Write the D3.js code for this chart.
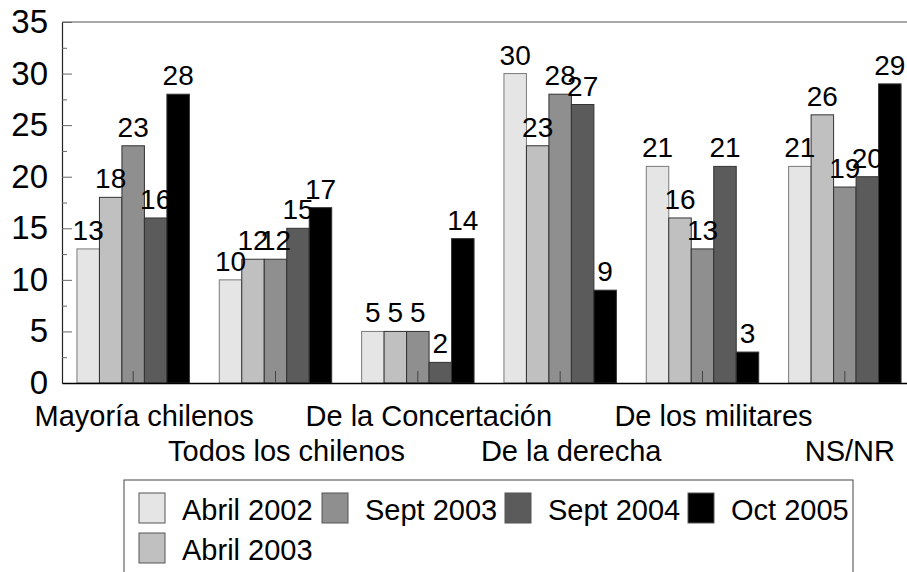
<!DOCTYPE html>
<html>
<head>
<meta charset="utf-8">
<script src="https://cdn.jsdelivr.net/npm/d3@7"></script>
<style>
	html, body {margin:0; padding:0; background:#fff;}
	.chart {width:907px; height:572px; overflow:hidden;}
	text {font-family:'Liberation Sans', Arial, sans-serif; fill:#000;}
</style>
</head>
<body>
<div class="chart"></div>
<script>
//Data
const CATEGORIES = ['Mayoría chilenos','Todos los chilenos','De la Concertación','De la derecha','De los militares','NS/NR'];
const SERIES = ['Abril 2002','Abril 2003','Sept 2003','Sept 2004','Oct 2005'];
const ABRIL_2002 = [13,10,5,30,21,21];
const ABRIL_2003 = [18,12,5,23,16,26];
const SEPT_2003 = [23,12,5,28,13,19];
const SEPT_2004 = [16,15,2,27,21,20];
const OCT_2005 = [28,17,14,9,3,29];
const Y_TICKS = [0,5,10,15,20,25,30,35];
const Y_MINOR = [2.5,7.5,12.5,17.5,22.5,27.5,32.5];
const COLORS = ['#e5e5e5','#c0c0c0','#8f8f8f','#5b5b5b','#000000'];

const VALUES = [ABRIL_2002, ABRIL_2003, SEPT_2003, SEPT_2004, OCT_2005];

//Prep work
const W = 907;
const H = 572;
const plotL = 62, plotR = 916, plotT = 22, plotB = 383;

const svg = d3.select('.chart')
	.append('svg')
		.attr('width', W)
		.attr('height', H);

//Scales
const scaleX = d3.scaleBand()
	.domain(CATEGORIES)
	.range([plotL, plotR])
	.paddingInner(0.21)
	.paddingOuter(0.105);

const scaleSeries = d3.scaleBand()
	.domain(SERIES)
	.range([0, scaleX.bandwidth()]);

const scaleY = d3.scaleLinear()
	.domain([0, 35])
	.range([plotB, plotT]);

const scaleColor = d3.scaleOrdinal().domain(SERIES).range(COLORS);

//Flatten into one record per bar
const bars = [];
CATEGORIES.forEach(function(cat, i){
	SERIES.forEach(function(s, j){
		bars.push({category:cat, series:s, value:VALUES[j][i]});
	});
});

//Top frame line
svg.append('line')
	.attr('x1', plotL).attr('x2', plotR)
	.attr('y1', plotT).attr('y2', plotT)
	.style('stroke', '#555')
	.style('stroke-width', 1);

//Bars
svg.append('g').attr('class','bars')
	.selectAll('rect')
	.data(bars)
	.enter()
	.append('rect')
		.attr('x', function(d){return scaleX(d.category) + scaleSeries(d.series)})
		.attr('y', function(d){return scaleY(d.value)})
		.attr('width', scaleSeries.bandwidth())
		.attr('height', function(d){return plotB - scaleY(d.value)})
		.style('fill', function(d){return scaleColor(d.series)})
		.style('stroke', function(d){return d.series === SERIES[0] ? '#7a7a7a' : '#333'})
		.style('stroke-width', 1);

//Value labels
svg.append('g').attr('class','values')
	.selectAll('text')
	.data(bars)
	.enter()
	.append('text')
		.attr('x', function(d){return scaleX(d.category) + scaleSeries(d.series) + scaleSeries.bandwidth()/2})
		.attr('y', function(d){return scaleY(d.value) - 9})
		.attr('text-anchor', 'middle')
		.style('font-size', '28px')
		.text(function(d){return d.value});

//Y axis, ticks pointing inward
const axisY = d3.axisLeft(scaleY)
	.tickValues(Y_TICKS)
	.tickSize(-10)
	.tickSizeOuter(0)
	.tickPadding(14);

const gY = svg.append('g')
	.attr('class','axis-y')
	.attr('transform', `translate(${plotL},0)`)
	.call(axisY);
gY.select('.domain').style('stroke', '#222').style('stroke-width', 1.2);
gY.selectAll('.tick line').style('stroke', '#666');
gY.selectAll('.tick text')
	.style('font-size', '33px')
	.style('font-family', "'Liberation Sans', Arial, sans-serif")
	.style('fill', '#000');

const gYMinor = svg.append('g')
	.attr('class','axis-y-minor')
	.attr('transform', `translate(${plotL},0)`)
	.call(d3.axisLeft(scaleY).tickValues(Y_MINOR).tickSize(-5).tickSizeOuter(0).tickFormat(''));
gYMinor.select('.domain').remove();
gYMinor.selectAll('.tick line').style('stroke', '#666');

//X axis, ticks at group centres pointing up
const gX = svg.append('g')
	.attr('class','axis-x')
	.attr('transform', `translate(0,${plotB})`)
	.call(d3.axisBottom(scaleX).tickSize(-12).tickSizeOuter(0).tickFormat(''));
gX.select('.domain').style('stroke', '#000').style('stroke-width', 1.5);
gX.selectAll('.tick line').style('stroke', '#444');

//Category labels, staggered on two rows
svg.append('g').attr('class','categories')
	.selectAll('text')
	.data(CATEGORIES)
	.enter()
	.append('text')
		.attr('x', function(d){return scaleX(d) + scaleX.bandwidth()/2 + 11})
		.attr('y', function(d, i){return i % 2 === 0 ? 426 : 461})
		.attr('text-anchor', 'middle')
		.style('font-size', '29px')
		.text(function(d){return d})
		.each(function(){
			//keep labels inside the picture
			const box = this.getBBox();
			const over = box.x + box.width - (W - 12);
			if(over > 0){
				d3.select(this).attr('x', +d3.select(this).attr('x') - over);
			}
		});

//Legend
const legend = svg.append('g').attr('class','legend');
legend.append('rect')
	.attr('x', 124).attr('y', 480)
	.attr('width', 729).attr('height', 120)
	.style('fill', 'none')
	.style('stroke', '#444')
	.style('stroke-width', 1);

const legendItems = legend.selectAll('.item')
	.data(SERIES)
	.enter()
	.append('g')
		.attr('class','item')
		.attr('transform', function(d, i){
			//first two entries stack in column one, the rest fill row one
			const col = i < 2 ? 0 : i - 1;
			const row = i === 1 ? 1 : 0;
			return `translate(${139 + col*183},${493 + row*40})`;
		});

legendItems.append('rect')
	.attr('width', 26)
	.attr('height', 30)
	.style('fill', function(d){return scaleColor(d)})
	.style('stroke', '#555')
	.style('stroke-width', 1);

legendItems.append('text')
	.attr('x', 43)
	.attr('y', 27)
	.style('font-size', '29px')
	.text(function(d){return d});
</script>
</body>
</html>
